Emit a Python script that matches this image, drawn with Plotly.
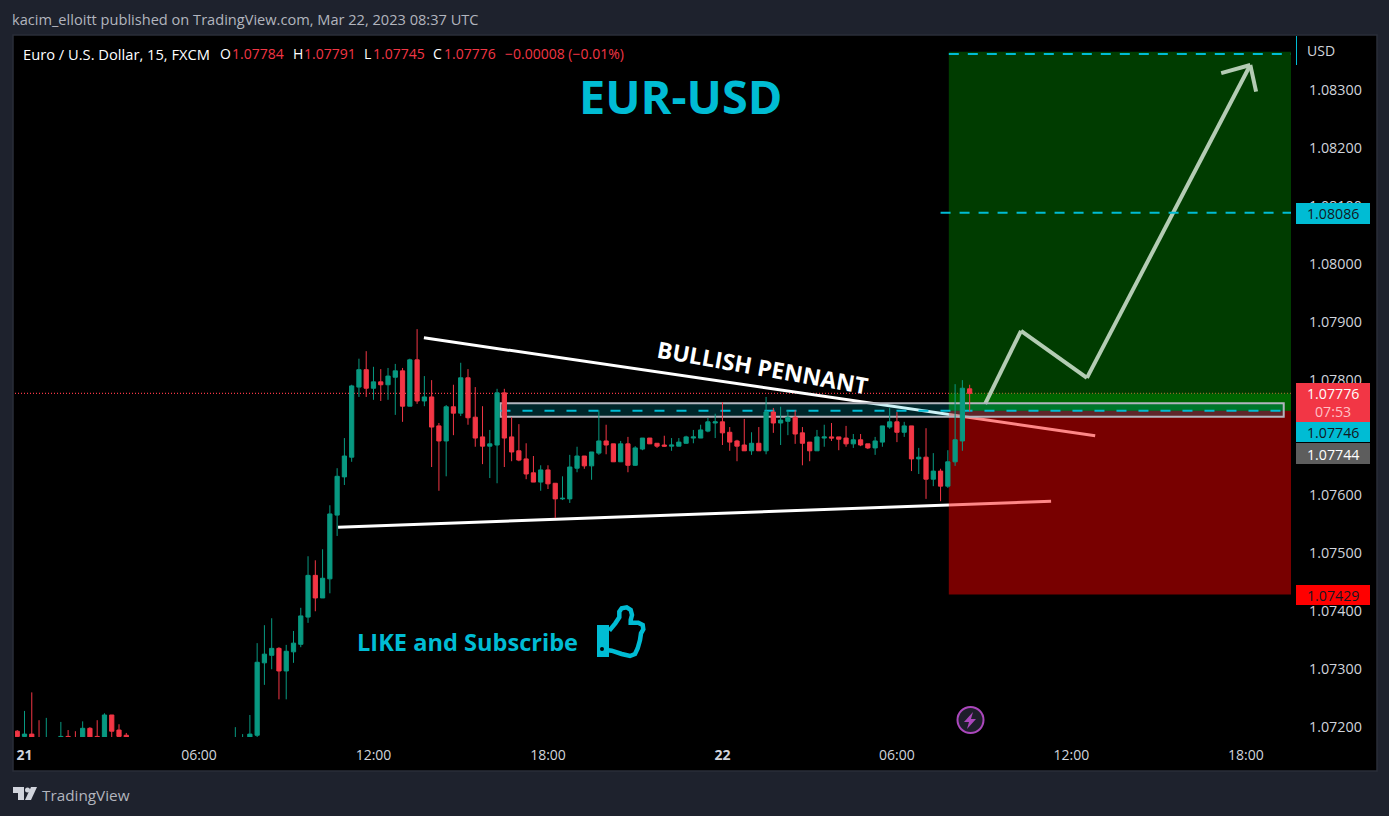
import pandas as pd
import plotly.graph_objects as go

# ---- data ----------------------------------------------------------------
start_bar = "2023-03-20 23:45"
gap = [None] * 14
opens = [1.07193,1.07184,1.07188,1.07181,1.07176,None,1.07180,1.07184,1.07180,1.07178,1.07198,1.07184,1.07180,1.07221,1.07195,1.07186] + gap + [
 1.07172,1.07175,1.07180,1.07186,1.07311,1.07324,1.07336,1.07297,1.07330,1.07343,1.07390,1.07462,1.07423,1.07456,1.07566,1.07632,1.07666,
 1.07787,1.07817,1.07785,1.07796,1.07791,1.07804,1.07815,1.07754,1.07834,1.07763,1.07770,1.07720,1.07694,1.07753,1.07742,1.07803,1.07735,
 1.07701,1.07685,1.07687,1.07777,1.07701,1.07677,1.07663,1.07639,1.07623,1.07644,1.07621,1.07594,1.07594,1.07647,1.07668,1.07651,1.07673,
 1.07694,1.07689,1.07658,1.07689,1.07652,1.07680,1.07699,1.07690,1.07687,1.07685,1.07685,1.07690,1.07699,1.07699,1.07711,1.07725,1.07727,
 1.07709,1.07694,1.07687,1.07677,1.07690,1.07677,1.07744,1.07725,1.07728,1.07735,1.07708,1.07692,1.07677,1.07699,1.07701,1.07701,1.07699,
 1.07689,1.07696,1.07689,1.07682,1.07692,1.07718,1.07727,1.07709,1.07720,1.07663,1.07666,1.07628,1.07642,1.07616,1.07658,1.07694,1.07784]
highs = [1.07195,1.07228,1.07260,1.07212,1.07216,None,1.07209,1.07195,1.07193,1.07210,1.07200,1.07212,1.07224,1.07221,1.07205,1.07190] + gap + [
 1.07200,1.07188,1.07221,1.07345,1.07376,1.07388,1.07338,1.07342,1.07366,1.07406,1.07495,1.07488,1.07507,1.07583,1.07647,1.07699,1.07791,
 1.07836,1.07849,1.07822,1.07818,1.07820,1.07827,1.07820,1.07836,1.07887,1.07806,1.07799,1.07725,1.07756,1.07791,1.07829,1.07818,1.07787,
 1.07754,1.07713,1.07784,1.07784,1.07735,1.07723,1.07690,1.07668,1.07652,1.07652,1.07621,1.07633,1.07670,1.07684,1.07668,1.07675,1.07747,
 1.07722,1.07689,1.07694,1.07701,1.07685,1.07699,1.07699,1.07690,1.07703,1.07699,1.07699,1.07703,1.07713,1.07722,1.07734,1.07741,1.07761,
 1.07718,1.07696,1.07732,1.07709,1.07718,1.07770,1.07751,1.07753,1.07747,1.07747,1.07718,1.07692,1.07713,1.07722,1.07725,1.07701,1.07720,
 1.07706,1.07706,1.07689,1.07701,1.07720,1.07751,1.07744,1.07727,1.07720,1.07682,1.07716,1.07673,1.07646,1.07678,1.07792,1.07799,1.07791]
lows = [1.07183,1.07183,1.07180,1.07176,1.07174,None,1.07178,1.07178,1.07176,1.07176,1.07178,1.07176,1.07176,1.07183,1.07180,1.07176] + gap + [
 1.07170,1.07172,1.07178,1.07183,1.07273,1.07300,1.07248,1.07248,1.07311,1.07338,1.07380,1.07400,1.07423,1.07431,1.07530,1.07618,1.07658,
 1.07770,1.07770,1.07765,1.07763,1.07765,1.07739,1.07727,1.07754,1.07758,1.07754,1.07649,1.07608,1.07633,1.07704,1.07737,1.07722,1.07684,
 1.07654,1.07630,1.07621,1.07649,1.07659,1.07659,1.07628,1.07623,1.07608,1.07611,1.07561,1.07592,1.07587,1.07640,1.07646,1.07627,1.07670,
 1.07671,1.07658,1.07658,1.07640,1.07651,1.07678,1.07689,1.07682,1.07684,1.07677,1.07685,1.07689,1.07690,1.07699,1.07709,1.07699,1.07687,
 1.07677,1.07659,1.07677,1.07670,1.07677,1.07671,1.07708,1.07687,1.07704,1.07689,1.07652,1.07659,1.07677,1.07684,1.07694,1.07678,1.07684,
 1.07682,1.07685,1.07680,1.07670,1.07684,1.07715,1.07692,1.07701,1.07642,1.07637,1.07594,1.07616,1.07590,1.07613,1.07651,1.07677,1.07745]
closes = [1.07184,1.07188,1.07183,1.07178,1.07179,None,1.07184,1.07181,1.07178,1.07198,1.07180,1.07180,1.07221,1.07193,1.07184,1.07181] + gap + [
 1.07178,1.07180,1.07188,1.07312,1.07326,1.07336,1.07297,1.07331,1.07345,1.07392,1.07462,1.07423,1.07457,1.07568,1.07633,1.07668,1.07789,
 1.07817,1.07785,1.07796,1.07791,1.07806,1.07815,1.07754,1.07834,1.07763,1.07770,1.07718,1.07694,1.07753,1.07742,1.07803,1.07734,1.07699,
 1.07685,1.07689,1.07777,1.07699,1.07675,1.07661,1.07637,1.07623,1.07644,1.07620,1.07594,1.07595,1.07649,1.07668,1.07651,1.07675,1.07694,
 1.07687,1.07658,1.07689,1.07652,1.07682,1.07699,1.07689,1.07685,1.07685,1.07687,1.07692,1.07701,1.07701,1.07713,1.07727,1.07727,1.07708,
 1.07692,1.07685,1.07677,1.07690,1.07677,1.07744,1.07725,1.07730,1.07735,1.07706,1.07690,1.07677,1.07701,1.07701,1.07699,1.07697,1.07689,
 1.07696,1.07687,1.07682,1.07694,1.07720,1.07727,1.07709,1.07720,1.07663,1.07666,1.07628,1.07642,1.07616,1.07658,1.07696,1.07785,1.07776]

price_ticks = [1.072,1.073,1.074,1.075,1.076,1.078,1.079,1.080,1.081,1.082,1.083]
price_tick_text = [f"{p:.5f}" for p in price_ticks]
time_ticks = ["2023-03-21 00:00","2023-03-21 06:00","2023-03-21 12:00","2023-03-21 18:00",
              "2023-03-22 00:00","2023-03-22 06:00","2023-03-22 12:00","2023-03-22 18:00"]
time_text = ["<b>21</b>","06:00","12:00","18:00","<b>22</b>","06:00","12:00","18:00"]

x_range = ["2023-03-20 23:40:24","2023-03-22 19:33:00"]
y_range = [1.07183,1.08393]
zone_start = "2023-03-22 07:47"
target_start = "2023-03-22 07:30"
band_start = "2023-03-21 16:22"
band_end = "2023-03-22 19:18"
zone_top = 1.08366
target_price = 1.08362
mid_price = 1.08088
entry_price = 1.07746
stop_price = 1.07429
last_close = 1.07776
band_low, band_high = 1.07736, 1.07759
lower_t = ["2023-03-21 10:47","2023-03-22 11:18"]
lower_p = [1.07545,1.07590]
upper_t = ["2023-03-21 13:44","2023-03-22 12:49"]
upper_p = [1.07872,1.07703]
arrow_t = ["2023-03-22 09:02","2023-03-22 10:16","2023-03-22 12:32","2023-03-22 18:09"]
arrow_p = [1.07758,1.07884,1.07803,1.08343]
head_t = ["2023-03-22 17:09","2023-03-22 18:09","2023-03-22 18:21"]
head_p = [1.08329,1.08343,1.08297]

# ---- page geometry (pixels) -----------------------------------------------
W, H = 1389, 816
L, R, T, B = 15, 1291, 36, 737
def px(x): return (x - L) / (R - L)
def py(y): return (B - y) / (B - T)

BG = "#1e222d"; EDGE = "#2a2e39"; CYAN = "#00bcd4"
GREEN = "#089981"; RED = "#f23645"; TXT = "#d1d4dc"
FONT = "Open Sans"

dates = pd.date_range(start_bar, periods=len(opens), freq="15min").strftime("%Y-%m-%d %H:%M").tolist()

fig = go.Figure(go.Candlestick(
    x=dates, open=opens, high=highs, low=lows, close=closes,
    increasing=dict(line=dict(color=GREEN, width=1), fillcolor=GREEN),
    decreasing=dict(line=dict(color=RED, width=1), fillcolor=RED),
    hoverinfo="skip", showlegend=False))

shapes = []
def paper_rect(x0, y0, x1, y1, fill, line=None, layer="below", lw=1):
    shapes.append(dict(type="rect", xref="paper", yref="paper", x0=px(x0), x1=px(x1), y0=py(y0), y1=py(y1),
                       fillcolor=fill, line=dict(color=line or fill, width=lw if line else 0), layer=layer))
def seg(t0, p0, t1, p1, color, width=3, dash="solid"):
    shapes.append(dict(type="line", xref="x", yref="y", x0=t0, x1=t1, y0=p0, y1=p1,
                       line=dict(color=color, width=width, dash=dash), layer="below"))
def zone(t0, t1, p0, p1, fill):
    shapes.append(dict(type="rect", xref="x", yref="y", x0=t0, x1=t1, y0=p0, y1=p1,
                       fillcolor=fill, line=dict(width=0), layer="below"))

# panel
paper_rect(13, 35, 1377, 771, "#000000", EDGE, lw=1.5)

# trend lines sit under the translucent position zones
seg(lower_t[0], lower_p[0], lower_t[1], lower_p[1], "#ffffff")
seg(upper_t[0], upper_p[0], upper_t[1], upper_p[1], "#ffffff")

zone(zone_start, x_range[1], entry_price, zone_top, "rgba(0,207,0,0.29)")
zone(zone_start, x_range[1], stop_price, entry_price, "rgba(255,0,0,0.47)")
zone(zone_start, x_range[1], entry_price, last_close, "rgba(0,160,0,0.4)")

ARROW = "#b4ccb4"
for i in range(len(arrow_t) - 1):
    seg(arrow_t[i], arrow_p[i], arrow_t[i+1], arrow_p[i+1], ARROW, 4)
for i in range(len(head_t) - 1):
    seg(head_t[i], head_p[i], head_t[i+1], head_p[i+1], ARROW, 4)

# channel band
shapes.append(dict(type="rect", xref="x", yref="y", x0=band_start, x1=band_end, y0=band_low, y1=band_high,
                   fillcolor="rgba(0,188,212,0.2)", line=dict(color="#b2b5be", width=2), layer="below"))
seg(band_start, entry_price, band_end, entry_price, CYAN, 2, "10px,12px")
seg(zone_start, target_price, x_range[1], target_price, CYAN, 2, "10px,9px")
seg(target_start, mid_price, x_range[1], mid_price, CYAN, 2, "10px,9px")
shapes.append(dict(type="line", xref="paper", yref="y", x0=0, x1=1, y0=last_close, y1=last_close,
                   line=dict(color=RED, width=1.3, dash="1px,2px"), layer="below"))

# price scale boxes
paper_rect(1296, 36, 1297, 65, CYAN, layer="above")
paper_rect(1296, 203, 1370, 224, CYAN, layer="above")
paper_rect(1296, 383, 1370, 422, RED, layer="above")
paper_rect(1296, 422, 1370, 442, CYAN, layer="above")
paper_rect(1296, 443, 1370, 464, "#5d5d5d", layer="above")
paper_rect(1296, 585, 1370, 605, "#ff0000", layer="above")

def path(points, close=False):
    s = "M" + " L".join(f"{px(x):.5f},{py(y):.5f}" for x, y in points)
    return s + (" Z" if close else "")

# thumb icon
thumb = [(609.3,630.7),(615.3,623.3),(619.3,617.3),(619.3,611.7),(621.7,608.3),(626.7,607.3),(630.7,610),
         (632,615),(630.7,620),(630.7,622.7),(638.3,622.7),(642.7,625),(643.3,629.3),(641,633.3),(640,640),
         (637.7,648.3),(635,654),(630,656),(621.7,654),(611.7,650.7),(606.7,650)]
shapes.append(dict(type="path", xref="paper", yref="paper", path=path(thumb),
                   line=dict(color=CYAN, width=4.5), layer="above"))
paper_rect(597, 625, 609, 657, CYAN, layer="above")
shapes.append(dict(type="circle", xref="paper", yref="paper", x0=px(600), x1=px(604), y0=py(651), y1=py(647),
                   fillcolor="#000000", line=dict(width=0), layer="above"))
# bolt badge
shapes.append(dict(type="circle", xref="paper", yref="paper", x0=px(957.5), x1=px(983.5), y0=py(733), y1=py(707),
                   line=dict(color="#ab47bc", width=2), fillcolor="#1e1e2a", layer="above"))
shapes.append(dict(type="path", xref="paper", yref="paper",
                   path=path([(973,712),(964,722),(969,722),(967,729),(976,719),(971,719)], True),
                   fillcolor="#ab47bc", line=dict(width=0), layer="above"))
# TradingView logo
for pts in ([(13,787),(24,787),(24,800),(18,800),(18,793),(13,793)],
            [(31,787),(37,787),(31,800),(25,800)]):
    shapes.append(dict(type="path", xref="paper", yref="paper", path=path(pts, True),
                       fillcolor="#d1d4dc", line=dict(width=0), layer="above"))
shapes.append(dict(type="circle", xref="paper", yref="paper", x0=px(25), x1=px(30), y0=py(792.5), y1=py(787.5),
                   fillcolor="#d1d4dc", line=dict(width=0), layer="above"))

ann = []
def text(x, y, s, size, color, anchor="left", font=FONT, angle=0):
    dx = -2 if anchor == "left" else 0
    ann.append(dict(xref="paper", yref="paper", x=px(x + dx), y=py(y), text=s, showarrow=False, xanchor=anchor,
                    yanchor="middle", textangle=angle, font=dict(family=font, size=size, color=color)))

text(12, 19, "kacim_elloitt published on TradingView.com, Mar 22, 2023 08:37 UTC", 14.6, "#b2b5be")
text(23, 54, "Euro / U.S. Dollar, 15, FXCM", 14.7, "#ffffff")
for x, s, c in [(220,"O","#ffffff"),(232,"1.07784",RED),(293,"H","#ffffff"),(304,"1.07791",RED),
                (364,"L","#ffffff"),(373,"1.07745",RED),(433,"C","#ffffff"),(444,"1.07776",RED),
                (505,"−0.00008 (−0.01%)",RED)]:
    text(x, 54, s, 14, c)
text(680, 96, "<b>EUR-USD</b>", 46.8, CYAN, "center")
text(762, 367, "<b>BULLISH PENNANT</b>", 22.8, "#ffffff", "center", angle=10)
text(357, 642, "<b>LIKE and Subscribe</b>", 23.6, CYAN)
text(1321, 51, "USD", 14, TXT, "center")
for y, s, c in [(213.5,"1.08086","#131722"),(393,"1.07776","#ffffff"),(411.5,"07:53","#ffc0c6"),
                (432,"1.07746","#131722"),(454,"1.07744","#ffffff"),(595,"1.07429","#131722")]:
    text(1333, y, s, 14.2, c, "center")
text(42, 795, "TradingView", 15.3, "#b2b5be")

fig.update_layout(
    width=W, height=H, autosize=False,
    margin=dict(l=L, r=W - R, t=T, b=H - B, pad=0),
    paper_bgcolor=BG, plot_bgcolor="rgba(0,0,0,0)",
    boxgap=0.42, boxgroupgap=0,
    shapes=shapes, annotations=ann, showlegend=False, hovermode=False,
    font=dict(family=FONT, size=14, color=TXT),
    xaxis=dict(type="date", range=x_range, rangeslider=dict(visible=False), tickmode="array",
               tickvals=time_ticks, ticktext=time_text, showgrid=False, zeroline=False, showline=False,
               ticks="", ticklabelstandoff=8, tickangle=0, tickfont=dict(family=FONT, size=14, color=TXT)),
    yaxis=dict(side="right", range=y_range, tickmode="array", tickvals=price_ticks, ticktext=price_tick_text,
               showgrid=False, zeroline=False, showline=False, ticks="", ticklabelstandoff=17,
               tickfont=dict(family=FONT, size=14.3, color=TXT)),
)

fig.write_html("out.html", config=dict(displayModeBar=False),
               post_script="document.documentElement.style.background='#1e222d';document.body.style.margin='0';document.body.style.background='#1e222d';")
